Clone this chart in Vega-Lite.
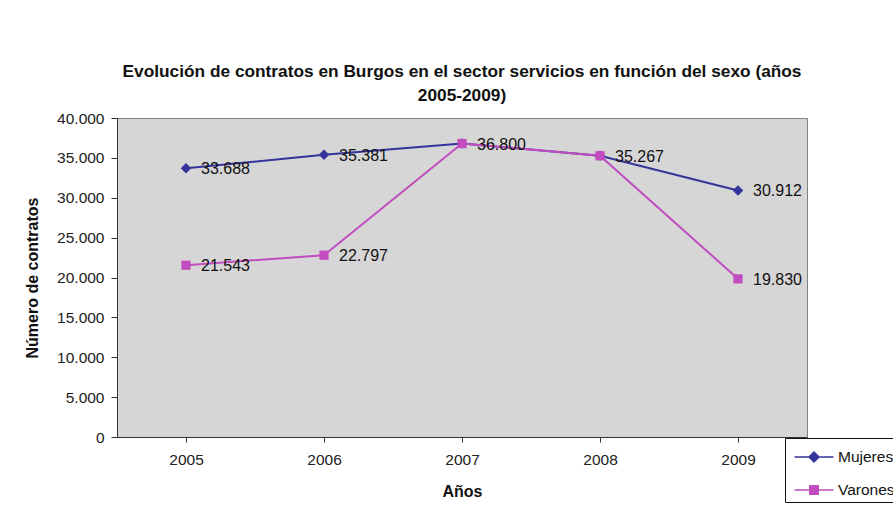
{
  "$schema": "https://vega.github.io/schema/vega-lite/v6.json",
  "autosize": "none",
  "width": 690,
  "height": 319,
  "padding": {"left": 117, "top": 118, "right": 86, "bottom": 72},
  "background": "white",
  "title": {
    "text": ["Evolución de contratos en Burgos en el sector servicios en función del sexo (años", "2005-2009)"],
    "font": "Liberation Sans",
    "fontSize": 17.3,
    "fontWeight": "bold",
    "color": "#111111",
    "anchor": "middle",
    "offset": 7,
    "lineHeight": 24
  },
  "config": {
    "locale": {"number": {"decimal": ",", "thousands": ".", "grouping": [3], "currency": ["", "€"]}},
    "view": {"fill": "#D6D6D6", "stroke": "#808080", "strokeWidth": 1},
    "font": "Liberation Sans"
  },
  "data": {
    "values": [
      {"anio": "2005", "serie": "Mujeres", "valor": 33688},
      {"anio": "2006", "serie": "Mujeres", "valor": 35381},
      {"anio": "2007", "serie": "Mujeres", "valor": 36800},
      {"anio": "2008", "serie": "Mujeres", "valor": 35267},
      {"anio": "2009", "serie": "Mujeres", "valor": 30912},
      {"anio": "2005", "serie": "Varones", "valor": 21543},
      {"anio": "2006", "serie": "Varones", "valor": 22797},
      {"anio": "2007", "serie": "Varones", "valor": 36800},
      {"anio": "2008", "serie": "Varones", "valor": 35267},
      {"anio": "2009", "serie": "Varones", "valor": 19830}
    ]
  },
  "encoding": {
    "x": {
      "field": "anio", "type": "ordinal", "title": "Años",
      "scale": {"paddingInner": 0, "paddingOuter": 0},
      "axis": {
        "labelAngle": 0, "labelFontSize": 15.5, "labelColor": "#222222", "labelPadding": 10,
        "bandPosition": 0, "tickColor": "#333333", "tickSize": 5, "domainColor": "#333333",
        "titleFontSize": 16, "titleFontWeight": "bold", "titleColor": "#111111", "titlePadding": 16
      }
    },
    "y": {
      "field": "valor", "type": "quantitative", "title": "Número de contratos",
      "scale": {"domain": [0, 40000], "nice": false},
      "axis": {
        "values": [0, 5000, 10000, 15000, 20000, 25000, 30000, 35000, 40000],
        "format": ",d", "grid": false, "labelFontSize": 15.5, "labelColor": "#222222",
        "tickColor": "#333333", "tickSize": 6, "domainColor": "#333333", "labelPadding": 7,
        "titleFontSize": 16, "titleFontWeight": "bold", "titleColor": "#111111", "titlePadding": 16
      }
    },
    "color": {
      "field": "serie", "type": "nominal",
      "scale": {"domain": ["Mujeres", "Varones"], "range": ["#34349A", "#C04CC0"]},
      "legend": {
        "orient": "none", "legendX": 668, "legendY": 320, "title": null,
        "strokeColor": "#111111", "fillColor": "white", "padding": 3,
        "labelFontSize": 15.5, "labelColor": "#111111", "labelLimit": 200,
        "symbolSize": 900, "symbolStrokeWidth": 1.5, "rowPadding": 8, "labelOffset": 8, "symbolOffset": 10,
        "encode": {
          "symbols": {
            "update": {
              "shape": {"signal": "datum.value == 'Mujeres' ? 'M-1.3,0L1.3,0M0,-0.33L0.33,0L0,0.33L-0.33,0Z' : 'M-1.3,0L1.3,0M-0.28,-0.28L0.28,-0.28L0.28,0.28L-0.28,0.28Z'"},
              "fill": {"signal": "datum.value == 'Mujeres' ? '#34349A' : '#C04CC0'"},
              "stroke": {"signal": "datum.value == 'Mujeres' ? '#34349A' : '#C04CC0'"},
              "strokeWidth": {"value": 1.5},
              "opacity": {"value": 1}
            }
          }
        }
      }
    }
  },
  "layer": [
    {
      "mark": {"type": "line", "strokeWidth": 2},
      "encoding": {"detail": {"field": "serie"}}
    },
    {
      "transform": [{"filter": "datum.serie == 'Mujeres'"}],
      "mark": {"type": "point", "filled": true, "opacity": 1, "size": 110, "shape": "diamond"}
    },
    {
      "transform": [{"filter": "datum.serie == 'Varones'"}],
      "mark": {"type": "point", "filled": true, "opacity": 1, "size": 85, "shape": "square"}
    },
    {
      "transform": [{"filter": "!(datum.serie == 'Mujeres' && (datum.anio == '2007' || datum.anio == '2008'))"}],
      "mark": {"type": "text", "align": "left", "baseline": "middle", "dx": 15, "dy": 1, "fontSize": 16, "color": "#111111"},
      "encoding": {
        "text": {"field": "valor", "type": "quantitative", "format": ",d"},
        "color": {"value": "#111111"}
      }
    }
  ]
}
